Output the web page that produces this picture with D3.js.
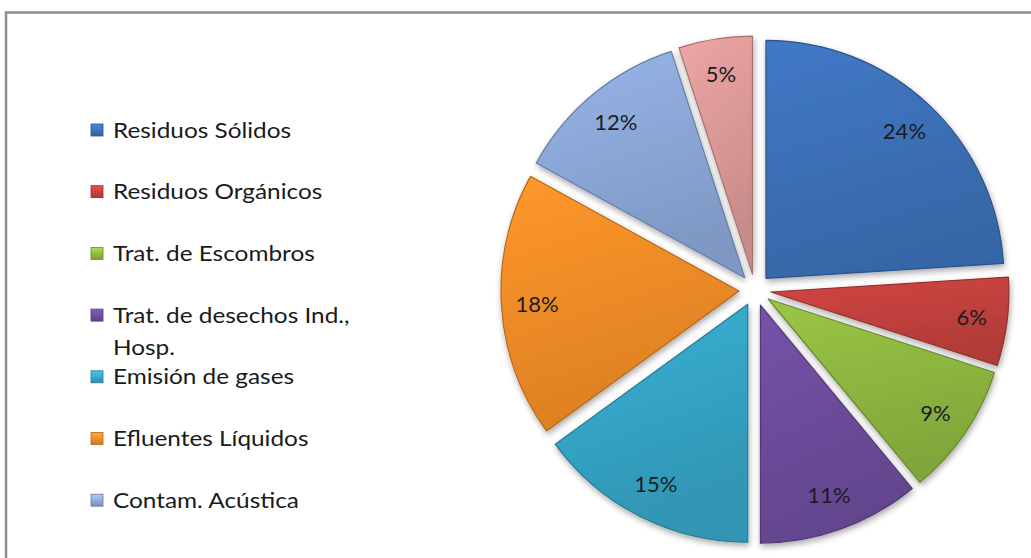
<!DOCTYPE html>
<html>
<head>
<meta charset="utf-8">
<script src="https://cdn.jsdelivr.net/npm/d3@7"></script>
<style>
  html, body { margin: 0; padding: 0; background: #fff; }
  svg { display: block; }
</style>
</head>
<body>
<svg id="chart" width="1031" height="558"></svg>
<script>
const categories = ["Residuos Sólidos", "Residuos Orgánicos", "Trat. de Escombros",
  "Trat. de desechos Ind., Hosp.", "Emisión de gases", "Efluentes Líquidos",
  "Contam. Acústica", "Otros"];
const values = [24, 6, 9, 11, 15, 18, 12, 5];
const legendLines = [["Residuos Sólidos"], ["Residuos Orgánicos"], ["Trat. de Escombros"],
  ["Trat. de desechos Ind.,", "Hosp."], ["Emisión de gases"], ["Efluentes Líquidos"], ["Contam. Acústica"]];
const colors = ["#3b6fb6", "#c0403c", "#8db53f", "#6c4b9b", "#34a3c4", "#f28b26", "#8aa6d5", "#da9896"];

const svg = d3.select("#chart");
const defs = svg.append("defs");

// chart border (partially cropped)
svg.append("path")
  .attr("d", "M6,560 L6,12.5 L1035,12.5")
  .attr("fill", "none").attr("stroke", "#8c8c8c").attr("stroke-width", 2.5);

// shadow filter
const f = defs.append("filter").attr("id", "shadow")
  .attr("x", "-20%").attr("y", "-20%").attr("width", "140%").attr("height", "140%");
f.append("feGaussianBlur").attr("in", "SourceAlpha").attr("stdDeviation", 3).attr("result", "b");
f.append("feOffset").attr("in", "b").attr("dx", 1).attr("dy", 3).attr("result", "o");
f.append("feComponentTransfer").attr("in", "o").attr("result", "o2")
  .append("feFuncA").attr("type", "linear").attr("slope", 0.35);
const m = f.append("feMerge");
m.append("feMergeNode").attr("in", "o2");
m.append("feMergeNode").attr("in", "SourceGraphic");

colors.forEach((c, i) => {
  const g = defs.append("linearGradient").attr("id", "g" + i)
    .attr("x1", "0").attr("y1", "0").attr("x2", "0.3").attr("y2", "1");
  g.append("stop").attr("offset", "0%").attr("stop-color", d3.color(c).brighter(0.25));
  g.append("stop").attr("offset", "100%").attr("stop-color", d3.color(c).darker(0.25));
});

const cx = 755, cy = 290, r = 238, explode = 16;
const pie = d3.pie().sort(null).value(d => d).startAngle(0).endAngle(2 * Math.PI);
const arcs = pie(values);
const arc = d3.arc().innerRadius(0).outerRadius(r);
const labelArc = d3.arc().innerRadius(r * 0.85).outerRadius(r * 0.85);

const gPie = svg.append("g").attr("transform", `translate(${cx},${cy})`);
const slices = gPie.selectAll("g.slice").data(arcs).enter().append("g")
  .attr("class", "slice")
  .attr("transform", d => {
    const a = (d.startAngle + d.endAngle) / 2;
    return `translate(${explode * Math.sin(a)},${-explode * Math.cos(a)})`;
  });

slices.append("path")
  .attr("d", arc)
  .attr("fill", (d, i) => `url(#g${i})`)
  .attr("stroke", (d, i) => d3.color(colors[i]).darker(0.8))
  .attr("stroke-width", 1.2)
  .attr("stroke-linejoin", "round")
  .attr("filter", "url(#shadow)");

slices.append("text")
  .attr("transform", d => `translate(${labelArc.centroid(d)})`)
  .attr("text-anchor", "middle")
  .attr("dy", "0.36em")
  .attr("font-family", "Lato, 'Open Sans', sans-serif")
  .attr("font-size", 22)
  .attr("fill", "#1b1b22")
  .text(d => d.data + "%");

// legend
const legend = svg.append("g");
const ly0 = 130, lstep = 61.7;
legendLines.forEach((lines, i) => {
  const y = ly0 + i * lstep;
  const gr = defs.append("linearGradient").attr("id", "lg" + i)
    .attr("x1", "0").attr("y1", "0").attr("x2", "0").attr("y2", "1");
  gr.append("stop").attr("offset", "0%").attr("stop-color", d3.color(colors[i]).brighter(0.6));
  gr.append("stop").attr("offset", "100%").attr("stop-color", d3.color(colors[i]).darker(0.4));
  legend.append("rect")
    .attr("x", 91).attr("y", y - 6).attr("width", 12).attr("height", 12)
    .attr("fill", `url(#lg${i})`)
    .attr("stroke", d3.color(colors[i]).darker(0.8)).attr("stroke-width", 0.8);
  lines.forEach((t, j) => {
    legend.append("text")
      .attr("transform", `translate(113,${y + j * 32}) scale(1.16,1)`)
      .attr("dy", "0.36em")
      .attr("font-family", "Lato, 'Open Sans', sans-serif")
      .attr("font-size", 21)
      .attr("fill", "#1a1a1a")
      .text(t);
  });
});
</script>
</body>
</html>
